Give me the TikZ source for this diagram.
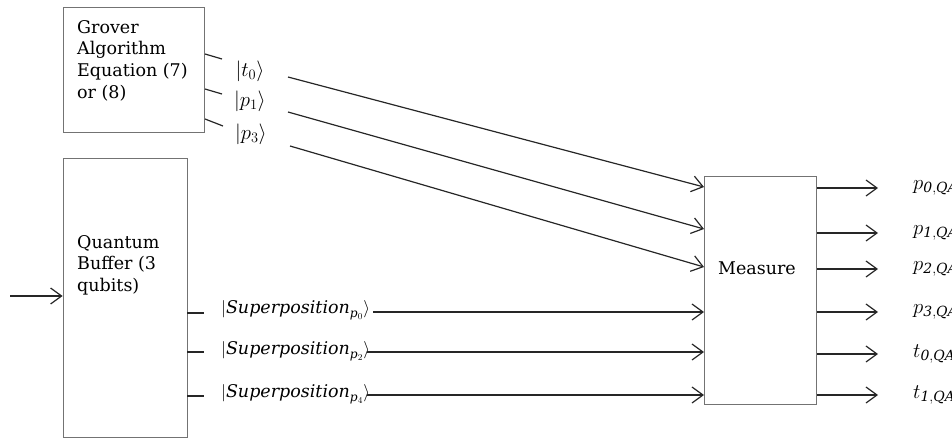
\documentclass[tikz,border=0pt]{standalone}
\usepackage{fontspec}
\setmainfont{DejaVu Serif}
\usetikzlibrary{arrows.meta}
\begin{document}
\begin{tikzpicture}[x=1pt,y=-1pt,
  box/.style={draw=black!55, line width=0.8pt, inner sep=0pt},
  conn/.style={draw=black!85, line width=1.2pt},
  arr/.style={conn, -{Straight Barb[length=11pt,width=16pt,line width=1.2pt]}},
  txt/.style={font=\fontsize{17.5}{21.7}\selectfont, align=left, inner sep=0pt},
  ket/.style={font=\fontsize{20}{20}\selectfont, inner sep=0pt},
  sup/.style={font=\fontsize{17.5}{20}\selectfont, inner sep=0pt, anchor=west},
  outl/.style={font=\fontsize{20}{20}\selectfont, inner sep=0pt, anchor=west},
  ]
\useasboundingbox (0,0) rectangle (952,439);
% boxes
\node[box, minimum width=141pt, minimum height=125pt] (grover) at (134,70) {};
\node[box, minimum width=124pt, minimum height=279pt] (buffer) at (125,297.5) {};
\node[box, minimum width=112pt, minimum height=228pt] (measure) at (760.5,290) {};
\node[txt, anchor=north west] (gtext) at (77,20) {Grover\\Algorithm\\Equation (7)\\or (8)};
\node[txt, anchor=north west] (btext) at (77,235) {Quantum\\Buffer (3\\qubits)};
\node[txt] (mtext) at (757,268) {Measure};
% grover outputs
\coordinate (gs1) at (205,54); \coordinate (ge1) at (222,59);
\coordinate (gs2) at (205,89); \coordinate (ge2) at (222,94);
\coordinate (gs3) at (205,119); \coordinate (ge3) at (223,126);
\draw[conn] (gs1) -- (ge1);
\draw[conn] (gs2) -- (ge2);
\draw[conn] (gs3) -- (ge3);
\node[ket] (kt0) at (250,71) {$|t_0\rangle$};
\node[ket] (kp1) at (250,101) {$|p_1\rangle$};
\node[ket] (kp3) at (251,134) {$|p_3\rangle$};
\coordinate (l1) at (288,77); \coordinate (m1) at (704,187);
\coordinate (l2) at (288,112); \coordinate (m2) at (704,229);
\coordinate (l3) at (290,146); \coordinate (m3) at (704,267);
\draw[arr] (l1) -- (m1);
\draw[arr] (l2) -- (m2);
\draw[arr] (l3) -- (m3);
% buffer outputs
\coordinate (bs1) at (187,313); \coordinate (be1) at (204,313);
\coordinate (bs2) at (187,352); \coordinate (be2) at (204,352);
\coordinate (bs3) at (187,396); \coordinate (be3) at (204,396);
\draw[conn] (bs1) -- (be1);
\draw[conn] (bs2) -- (be2);
\draw[conn] (bs3) -- (be3);
\node[sup] (sp0) at (221,310) {$\bigl|\mathit{Superposition}_{\mathit{p}_{0}}\bigr\rangle$};
\node[sup] (sp2) at (221,351) {$\bigl|\mathit{Superposition}_{\mathit{p}_{2}}\bigr\rangle$};
\node[sup] (sp4) at (221,394) {$\bigl|\mathit{Superposition}_{\mathit{p}_{4}}\bigr\rangle$};
\coordinate (s1) at (373,312); \coordinate (n1) at (704,312);
\coordinate (s2) at (367,352); \coordinate (n2) at (704,352);
\coordinate (s3) at (367,395); \coordinate (n3) at (704,395);
\draw[arr] (s1) -- (n1);
\draw[arr] (s2) -- (n2);
\draw[arr] (s3) -- (n3);
% input
\coordinate (in) at (10,296);
\draw[arr] (in) -- (buffer.west |- in);
% outputs
\foreach \y/\lab [count=\i] in {188/{p_{\mathit{0,QA}}},233/{p_{\mathit{1,QA}}},269/{p_{\mathit{2,QA}}},312/{p_{\mathit{3,QA}}},354/{t_{\mathit{0,QA}}},395/{t_{\mathit{1,QA}}}}{
  \coordinate (o\i) at (817,\y);
  \coordinate (oe\i) at (878,\y);
  \draw[arr] (o\i) -- (oe\i);
  \node[outl] (ol\i) at (913,\y) {$\lab$};
}
\end{tikzpicture}
\end{document}
